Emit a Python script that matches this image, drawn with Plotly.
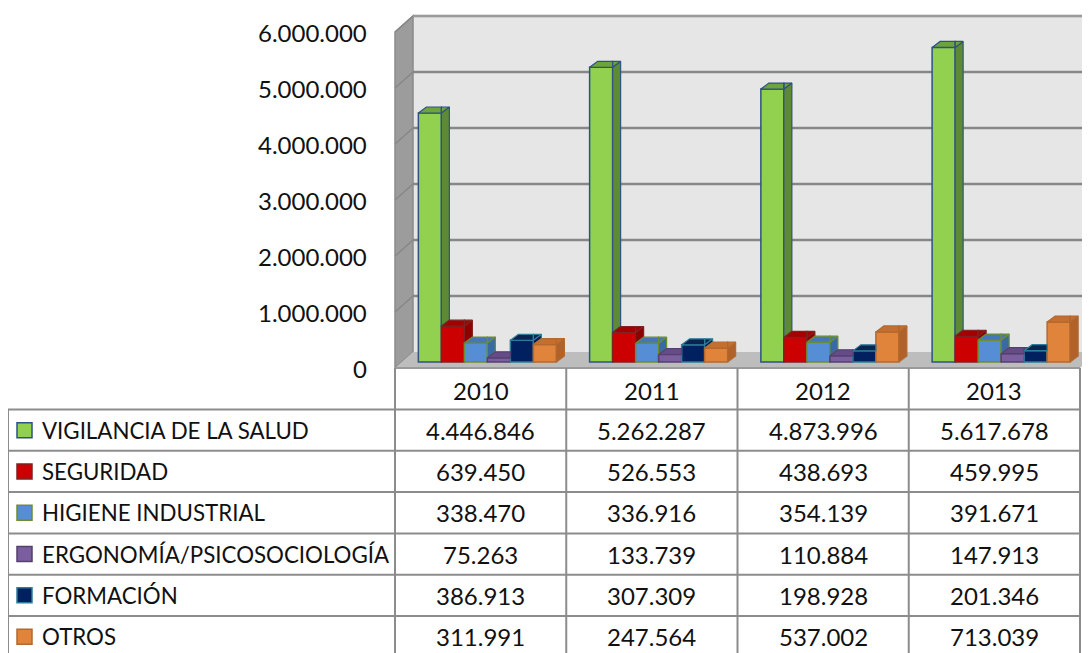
import plotly.graph_objects as go

# ---------------- data ----------------
years = ["2010", "2011", "2012", "2013"]
series_names = ["VIGILANCIA DE LA SALUD", "SEGURIDAD", "HIGIENE INDUSTRIAL",
                "ERGONOMÍA/PSICOSOCIOLOGÍA", "FORMACIÓN", "OTROS"]
vigilancia = [4446846, 5262287, 4873996, 5617678]
seguridad = [639450, 526553, 438693, 459995]
higiene = [338470, 336916, 354139, 391671]
ergonomia = [75263, 133739, 110884, 147913]
formacion = [386913, 307309, 198928, 201346]
otros = [311991, 247564, 537002, 713039]
tick_values = [0, 1000000, 2000000, 3000000, 4000000, 5000000, 6000000]

series_values = [vigilancia, seguridad, higiene, ergonomia, formacion, otros]

# ---------------- styles ----------------
front_colors = ["#92D050", "#CC0000", "#558ED5", "#7B5E9E", "#002060", "#E0843C"]
side_colors = ["#5E8A35", "#8E0000", "#3A6AA5", "#5A4478", "#00184A", "#B0622A"]
top_colors = ["#6FA33C", "#A50000", "#4676B8", "#654C88", "#0A2452", "#C46F30"]
line_colors = ["#2F5283", "#7F2222", "#6B8E2E", "#54406F", "#2E7C9A", "#B3692E"]

FONT = "Lato"
TXT = "#111111"
OFF = 8                 # page body margin
W, H = 1082, 645
BAND = 171.25           # px per category
PLANE_X0 = 401.75       # screen px of category -0.5 on the bar plane
PLANE_Y0 = 362.0        # screen px of value 0 on the bar plane
PX_PER_UNIT = 56 / 1e6  # px per value unit


def dx(px):
    return -0.5 + (px - PLANE_X0) / BAND


def dy(py):
    return (PLANE_Y0 - py) / PX_PER_UNIT


def sx(p):
    return p / BAND


def sy(p):
    return p / PX_PER_UNIT


def px_(p):
    return (p - OFF) / W


def py_(p):
    return 1 - (p - OFF) / H


GROUP = 0.806
bw = GROUP / 6
BD_X, BD_Y = sx(8), sy(6)
slope = BD_Y / BD_X


def clip(poly, x0, v1):
    # keep part with y >= v1 + slope*(x-x0)
    def f(p):
        return p[1] - (v1 + slope * (p[0] - x0))
    out = []
    n = len(poly)
    for i in range(n):
        a, b = poly[i], poly[(i + 1) % n]
        fa, fb = f(a), f(b)
        if fa >= 0:
            out.append(a)
        if (fa >= 0) != (fb >= 0):
            t = fa / (fa - fb)
            out.append((a[0] + t * (b[0] - a[0]), a[1] + t * (b[1] - a[1])))
    return out


fig = go.Figure()

xs = list(range(len(years)))
for k, (name, vals) in enumerate(zip(series_names, series_values)):
    fig.add_trace(go.Bar(
        x=xs, y=vals, name=name, width=bw, offset=-3 * bw + k * bw,
        marker=dict(color=front_colors[k], line=dict(color=line_colors[k], width=1.5)),
        showlegend=False, hovertemplate=name + "<br>%{y:,}<extra></extra>"))

for k in range(6):
    sxs, sys_, txs, tys = [], [], [], []
    for i in xs:
        v = series_values[k][i]
        vn = series_values[k + 1][i] if k < 5 else 0
        xl = i - 3 * bw + k * bw
        xr = xl + bw
        side = clip([(xr, 0), (xr, v), (xr + BD_X, v + BD_Y), (xr + BD_X, BD_Y)], xr, vn)
        top_l = [(xl, v), (xr, v), (xr, v + BD_Y), (xl + BD_X, v + BD_Y)]
        top_r = clip([(xr, v), (xr + BD_X, v + BD_Y), (xr, v + BD_Y)], xr, vn)
        for poly, X, Y in ((side, sxs, sys_), (top_l, txs, tys), (top_r, txs, tys)):
            if len(poly) >= 3:
                X += [p[0] for p in poly] + [poly[0][0], None]
                Y += [p[1] for p in poly] + [poly[0][1], None]
    fig.add_trace(go.Scatter(x=sxs, y=sys_, mode="lines", fill="toself",
                             fillcolor=side_colors[k], line=dict(color=line_colors[k], width=1.2),
                             hoverinfo="skip", showlegend=False))
    fig.add_trace(go.Scatter(x=txs, y=tys, mode="lines", fill="toself",
                             fillcolor=top_colors[k], line=dict(color=line_colors[k], width=1.2),
                             hoverinfo="skip", showlegend=False))

shapes = []
ymax = max(tick_values)
# back wall
shapes.append(dict(type="rect", x0=dx(413), x1=dx(1100), y0=sy(10), y1=ymax + sy(10),
                   fillcolor="#E6E6E6", line=dict(width=0), layer="below"))
# side wall
shapes.append(dict(type="path", path=f"M {dx(395)},{-sy(6)} L {dx(395)},{ymax - sy(6)} L {dx(413)},{ymax + sy(10)} L {dx(413)},{sy(10)} Z",
                   fillcolor="#9C9C9C", line=dict(color="#8A8A8A", width=1.5), layer="below"))
# floor
shapes.append(dict(type="path", path=f"M {dx(395)},{-sy(6)} L {dx(413)},{sy(10)} L {dx(1098)},{sy(10)} L {dx(1080)},{-sy(6)} Z",
                   fillcolor="#BDBDBD", line=dict(width=0), layer="below"))
# gridlines (back + side)
for v in tick_values[1:]:
    shapes.append(dict(type="line", x0=dx(413), x1=dx(1100), y0=v + sy(10), y1=v + sy(10),
                       line=dict(color="#878787", width=2.5), layer="below"))
    shapes.append(dict(type="line", x0=dx(395), x1=dx(413), y0=v - sy(6), y1=v + sy(10),
                       line=dict(color="#878787", width=1.5), layer="below"))
# back wall top edge
shapes.append(dict(type="line", x0=dx(413), x1=dx(1100), y0=ymax + sy(10), y1=ymax + sy(10),
                   line=dict(color="#9A9A9A", width=2), layer="below"))
# floor front edge
shapes.append(dict(type="line", x0=dx(395), x1=dx(1080), y0=-sy(6), y1=-sy(6),
                   line=dict(color="#9A9A9A", width=2), layer="below"))

# ---------------- data table ----------------
TBL = "#8C8C8C"
ROW0 = 409.5
ROWH = 41.3
nrows = len(series_names)
col_edges = [395 + BAND * j for j in range(len(years) + 1)]
for j in range(nrows + 1):
    yy = ROW0 + ROWH * j
    shapes.append(dict(type="line", xref="paper", yref="paper", x0=px_(8), x1=px_(col_edges[-1]),
                       y0=py_(yy), y1=py_(yy), line=dict(color=TBL, width=2)))
shapes.append(dict(type="line", xref="paper", yref="paper", x0=px_(8), x1=px_(8),
                   y0=py_(ROW0), y1=py_(OFF + H + 5), line=dict(color=TBL, width=2)))
for cx in col_edges:
    shapes.append(dict(type="line", xref="paper", yref="paper", x0=px_(cx), x1=px_(cx),
                       y0=py_(368), y1=py_(OFF + H + 5), line=dict(color=TBL, width=2)))

annotations = []
for v in tick_values:
    annotations.append(dict(x=dx(369), y=v - sy(6), xref="x", yref="y", xanchor="right",
                            yanchor="middle", showarrow=False,
                            text=f"{v:,}".replace(",", "."),
                            font=dict(family=FONT, size=24, color=TXT)))
for i, yr in enumerate(years):
    annotations.append(dict(x=i + sx(-6.75), y=py_(390), xref="x", yref="paper",
                            xanchor="center", yanchor="middle", showarrow=False, text=yr,
                            font=dict(family=FONT, size=24, color=TXT)))
for r, (name, vals) in enumerate(zip(series_names, series_values)):
    yc = ROW0 + ROWH * r + ROWH / 2
    annotations.append(dict(x=px_(40), y=py_(yc), xref="paper", yref="paper", xanchor="left",
                            yanchor="middle", showarrow=False, text=name,
                            font=dict(family=FONT, size=22.3, color=TXT)))
    shapes.append(dict(type="rect", xref="paper", yref="paper", x0=px_(17), x1=px_(32),
                       y0=py_(yc - 7.5), y1=py_(yc + 7.5), fillcolor=front_colors[r],
                       line=dict(color=line_colors[r], width=1.5)))
    for i, v in enumerate(vals):
        annotations.append(dict(x=i + sx(-6.75), y=py_(yc), xref="x", yref="paper",
                                xanchor="center", yanchor="middle", showarrow=False,
                                text=f"{v:,}".replace(",", "."),
                                font=dict(family=FONT, size=24, color=TXT)))

fig.update_layout(
    width=W, height=H, margin=dict(l=0, r=0, t=0, b=0),
    paper_bgcolor="white", plot_bgcolor="rgba(0,0,0,0)",
    barmode="overlay", showlegend=False,
    xaxis=dict(range=[dx(OFF), dx(OFF + W)], domain=[0, 1], visible=False, fixedrange=True),
    yaxis=dict(range=[dy(OFF + H), dy(OFF)], domain=[0, 1], visible=False, fixedrange=True),
    shapes=shapes, annotations=annotations,
)

fig.write_html("out.html")
